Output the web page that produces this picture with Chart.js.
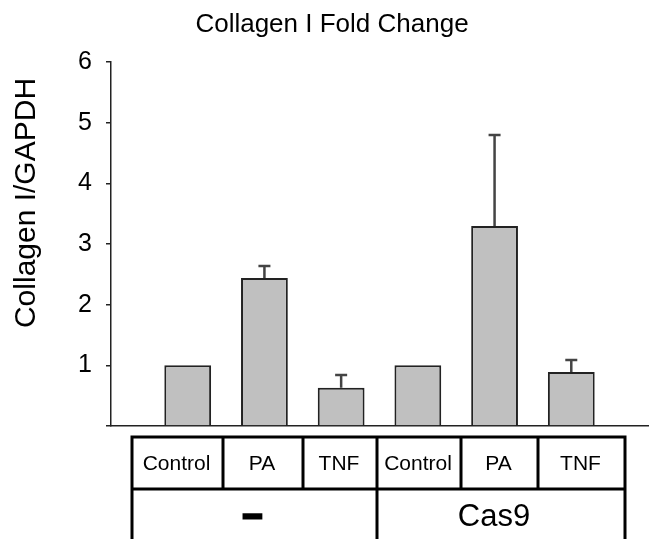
<!DOCTYPE html>
<html>
<head>
<meta charset="utf-8">
<script src="https://cdn.jsdelivr.net/npm/chart.js@4"></script>
<style>
  html, body { margin: 0; padding: 0; background: #fff; }
  #wrap { width: 649px; height: 539px; }
</style>
</head>
<body>
<div id="wrap"><canvas id="foldChart"></canvas></div>
<script>
const treatments = ['Control', 'PA', 'TNF', 'Control', 'PA', 'TNF'];
const groups = ['–', 'Cas9'];
const foldChange = [1.0, 2.44, 0.63, 1.0, 3.30, 0.89];
const errors = [0, 0.20, 0.21, 0, 1.50, 0.20];
const yTicks = [0, 1, 2, 3, 4, 5, 6];
const yTitle = 'Collagen I/GAPDH';

const FONT = '"Liberation Sans", Arial, sans-serif';

// empty slot on each side so the bars sit one step away from the axes
const labels = [''].concat(treatments, ['']);
const values = [null].concat(foldChange, [null]);

// error bars, upper side only
const errorBars = {
    id: 'errorBars',
    afterDatasetsDraw(chart) {
        const ctx = chart.ctx;
        const y = chart.scales.y;
        const meta = chart.getDatasetMeta(0);
        ctx.save();
        ctx.strokeStyle = '#444';
        ctx.lineWidth = 2.5;
        foldChange.forEach((v, i) => {
            if (!errors[i]) return;
            const bar = meta.data[i + 1];
            const top = y.getPixelForValue(v + errors[i]);
            const base = y.getPixelForValue(v);
            ctx.beginPath();
            ctx.moveTo(bar.x, base);
            ctx.lineTo(bar.x, top);
            ctx.moveTo(bar.x - 6, top);
            ctx.lineTo(bar.x + 6, top);
            ctx.stroke();
        });
        ctx.restore();
    }
};

// title sits a little right of the canvas centre in the original
const nudgeTitle = {
    id: 'nudgeTitle',
    afterLayout(chart) {
        chart.titleBlock.left += 8;
        chart.titleBlock.right += 8;
    }
};

// rotated y title, placed higher than the axis centre
const yAxisTitle = {
    id: 'yAxisTitle',
    afterDraw(chart) {
        const ctx = chart.ctx;
        ctx.save();
        ctx.translate(27, 203);
        ctx.rotate(-Math.PI / 2);
        ctx.fillStyle = '#000';
        ctx.font = '30px ' + FONT;
        ctx.textAlign = 'center';
        ctx.textBaseline = 'middle';
        ctx.fillText(yTitle, 0, 0);
        ctx.restore();
    }
};

// the treatment / group table under the axis
const groupTable = {
    id: 'groupTable',
    afterDraw(chart) {
        const ctx = chart.ctx;
        const cols = [132, 223, 303, 377, 461, 538, 625];
        const top = 437, mid = 489, bottom = 545;
        ctx.save();
        ctx.strokeStyle = '#000';
        ctx.lineWidth = 3;
        ctx.beginPath();
        ctx.moveTo(cols[0], top); ctx.lineTo(cols[6], top);
        ctx.moveTo(cols[0], mid); ctx.lineTo(cols[6], mid);
        ctx.moveTo(cols[0], top - 1.5); ctx.lineTo(cols[0], bottom);
        ctx.moveTo(cols[6], top - 1.5); ctx.lineTo(cols[6], bottom);
        for (let i = 1; i < 6; i++) {
            ctx.moveTo(cols[i], top);
            ctx.lineTo(cols[i], i === 3 ? bottom : mid);
        }
        ctx.stroke();

        ctx.fillStyle = '#000';
        ctx.textAlign = 'center';
        ctx.textBaseline = 'middle';
        ctx.font = '21px ' + FONT;
        treatments.forEach((t, i) => {
            ctx.fillText(t, (cols[i] + cols[i + 1]) / 2 - 1, (top + mid) / 2 + 1);
        });

        // the dash is drawn heavy, like the original
        ctx.font = 'bold 34px ' + FONT;
        ctx.lineWidth = 3;
        ctx.strokeText(groups[0], (cols[0] + cols[3]) / 2 - 2, 516);
        ctx.fillText(groups[0], (cols[0] + cols[3]) / 2 - 2, 516);

        ctx.font = '31px ' + FONT;
        ctx.fillText(groups[1], (cols[3] + cols[6]) / 2 - 7, 517);
        ctx.restore();
    }
};

new Chart(document.getElementById('foldChart'), {
    type: 'bar',
    data: {
        labels: labels,
        datasets: [{
            data: values,
            backgroundColor: '#c0c0c0',
            borderColor: '#222',
            borderWidth: 2,
            categoryPercentage: 1,
            barPercentage: 0.61
        }]
    },
    options: {
        responsive: true,
        maintainAspectRatio: false,
        animation: false,
        layout: { padding: { left: 0, right: 1, top: 0, bottom: 113 } },
        plugins: {
            legend: { display: false },
            tooltip: { enabled: false },
            title: {
                display: true,
                text: 'Collagen I Fold Change',
                color: '#000',
                font: { family: FONT, size: 26, weight: 'normal' },
                padding: { top: 9, bottom: 22 }
            }
        },
        scales: {
            x: {
                offset: false,
                grid: { display: false, drawTicks: false },
                ticks: { display: false },
                border: { display: true, color: '#222', width: 1.5 }
            },
            y: {
                min: 0,
                max: 6,
                afterBuildTicks(scale) {
                    scale.ticks = yTicks.map(v => ({ value: v }));
                },
                afterFit(scale) { scale.width = 111; },
                grid: {
                    drawOnChartArea: false,
                    drawTicks: true,
                    tickLength: 5,
                    color: '#222',
                    lineWidth: 1.5
                },
                border: { display: true, color: '#222', width: 1.5 },
                ticks: {
                    color: '#000',
                    padding: 14,
                    font: { family: FONT, size: 25 },
                    callback: v => (v === 0 ? '' : v)
                }
            }
        }
    },
    plugins: [errorBars, nudgeTitle, yAxisTitle, groupTable]
});
</script>
</body>
</html>
